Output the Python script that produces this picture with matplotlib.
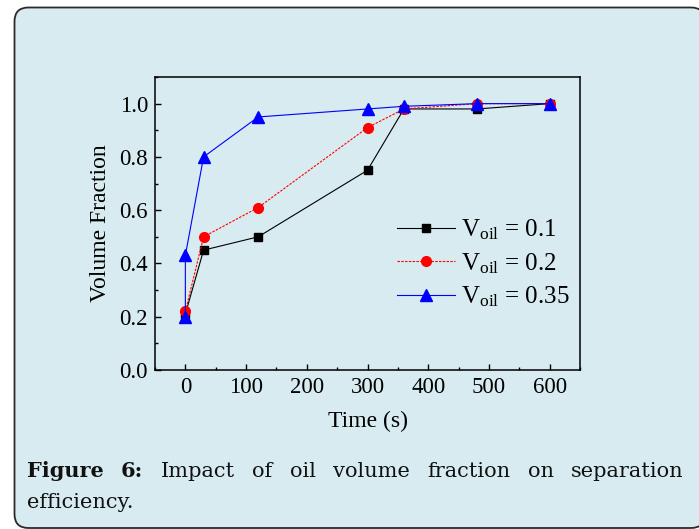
import matplotlib
matplotlib.use("Agg")
import matplotlib.pyplot as plt
from matplotlib.patches import FancyBboxPatch
from matplotlib.ticker import MultipleLocator

# Separation data: volume fraction versus time for three oil fractions
time_01 = [0, 30, 120, 300, 360, 480, 600]
frac_01 = [0.21, 0.45, 0.50, 0.75, 0.98, 0.98, 1.00]

time_02 = [0, 30, 120, 300, 360, 480, 600]
frac_02 = [0.22, 0.50, 0.61, 0.91, 0.98, 1.00, 1.00]

time_035 = [0, 0, 30, 120, 300, 360, 480, 600]
frac_035 = [0.20, 0.43, 0.80, 0.95, 0.98, 0.99, 1.00, 1.00]

labels = [r"$\mathrm{V_{oil}}$ = 0.1", r"$\mathrm{V_{oil}}$ = 0.2", r"$\mathrm{V_{oil}}$ = 0.35"]
x_ticks = [0, 100, 200, 300, 400, 500, 600]
y_ticks = [0.0, 0.2, 0.4, 0.6, 0.8, 1.0]

caption_bold = ["Figure", "6:"]
caption_line1 = ["Impact", "of", "oil", "volume", "fraction", "on", "separation"]
caption_line2 = "efficiency."

plt.rcParams["font.family"] = ["Liberation Serif"]
plt.rcParams["mathtext.fontset"] = "custom"
plt.rcParams["mathtext.rm"] = "Liberation Serif"
plt.rcParams["mathtext.it"] = "Liberation Serif:italic"

W, H = 699, 529
BG = "#d7ebf0"
fig = plt.figure(figsize=(W / 100, H / 100), dpi=100)
fig.patch.set_facecolor("white")

# rounded panel behind everything
panel = FancyBboxPatch((14.5 / W, 1 - 528 / H), (705 - 14.5) / W, (528 - 7.5) / H,
                       boxstyle="round,pad=0,rounding_size=0.02",
                       transform=fig.transFigure, facecolor=BG,
                       edgecolor="#2a2a2a", linewidth=1.3, zorder=-5,
                       mutation_aspect=W / H)
fig.patches.append(panel)

ax = fig.add_axes([155 / W, 1 - 370 / H, (580 - 155) / W, (370 - 77) / H])
ax.set_zorder(2)
ax.set_facecolor("none")

ax.plot(time_01, frac_01, color="black", lw=0.8, marker="s", ms=6,
        label=labels[0], zorder=3)
ax.plot(time_02, frac_02, color="red", lw=0.8, ls=(0, (2.2, 1.2)), marker="o",
        ms=7, label=labels[1], zorder=4)
ax.plot(time_035, frac_035, color="blue", lw=0.8, marker="^", ms=8,
        label=labels[2], zorder=5)

ax.set_xlim(-50, 650)
ax.set_ylim(0, 1.1)
ax.set_xticks(x_ticks)
ax.set_yticks(y_ticks)
ax.set_yticklabels([f"{v:.1f}" for v in y_ticks])
ax.xaxis.set_minor_locator(MultipleLocator(50))
ax.yaxis.set_minor_locator(MultipleLocator(0.1))
ax.tick_params(which="both", direction="in", top=False, right=False,
               labelsize=16.5, width=1.0)
ax.tick_params(which="major", length=4.5, pad=5)
ax.tick_params(which="minor", length=2.5)
for sp in ax.spines.values():
    sp.set_linewidth(1.1)

ax.set_xlabel("Time (s)", fontsize=17, labelpad=9)
ax.set_ylabel("Volume Fraction", fontsize=17, labelpad=6)

leg = ax.legend(loc="upper left", bbox_to_anchor=(0.57, 0.52), frameon=False,
                prop={"family": "Liberation Serif", "size": 18},
                handlelength=2.3, handletextpad=0.25, labelspacing=0.35,
                borderaxespad=0, borderpad=0)

# justified caption, placed word by word
renderer = fig.canvas.get_renderer()
x_left, x_right = 27, 684
base1, base2 = 477, 508
cap_size = 15
words = [(w, "bold") for w in caption_bold] + [(w, "normal") for w in caption_line1]
texts = []
for w, weight in words:
    t = fig.text(0, 1 - base1 / H, w, fontsize=cap_size, fontweight=weight,
                 fontfamily="DejaVu Serif", va="baseline", ha="left", color="#111111")
    texts.append(t)
widths = [t.get_window_extent(renderer).width for t in texts]
gap = (x_right - x_left - sum(widths)) / (len(texts) - 1)
x = x_left
for t, wd in zip(texts, widths):
    t.set_x(x / W)
    x += wd + gap
fig.text(x_left / W, 1 - base2 / H, caption_line2, fontsize=cap_size,
         fontfamily="DejaVu Serif", va="baseline", ha="left", color="#111111")

fig.savefig("out.png", dpi=100, facecolor=fig.get_facecolor())
